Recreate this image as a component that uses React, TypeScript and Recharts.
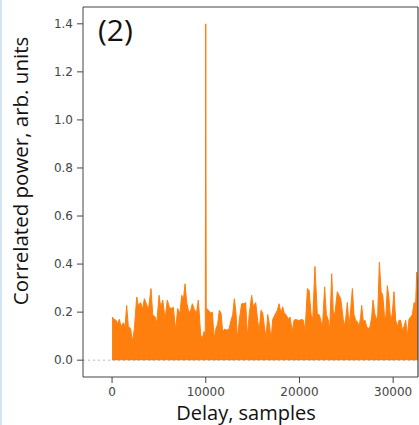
import { AreaChart, Area, XAxis, YAxis, ReferenceLine } from 'recharts'

const delays = [
  0, 220, 430, 600, 780, 960, 1210, 1390, 1560, 1740, 1990, 2170, 2380, 2630, 2810, 3060,
  3240, 3450, 3660, 3880, 4160, 4340, 4590, 4770, 5020, 5190, 5410, 5660, 5900, 6120, 6300,
  6540, 6790, 7000, 7250, 7430, 7610, 7790, 7970, 8140, 8320, 8570, 8790, 9000, 9210, 9460,
  9640, 9820, 9950, 10000, 10050, 10100, 10280, 10530, 10700, 10900, 11070, 11270, 11450,
  11630, 11810, 12060, 12240, 12480, 12700, 12880, 13050, 13230, 13380, 13590, 13830, 14090,
  14260, 14440, 14650, 14900, 15080, 15330, 15540, 15690, 15900, 16080, 16260, 16430, 16610,
  16790, 16970, 17150, 17400, 17640, 17820, 18030, 18210, 18380, 18560, 18810, 18990, 19240,
  19420, 19600, 19810, 20060, 20240, 20420, 20600, 20850, 21030, 21240, 21420, 21650, 21910,
  22090, 22260, 22440, 22690, 22870, 23050, 23230, 23440, 23620, 23800, 24040, 24220, 24400,
  24580, 24760, 24930, 25110, 25290, 25470, 25650, 25820, 26000, 26180, 26360, 26530, 26640,
  26820, 27000, 27170, 27350, 27530, 27710, 27850, 28030, 28210, 28350, 28530, 28710, 28890,
  29060, 29200, 29380, 29560, 29740, 29910, 30090, 30270, 30450, 30620, 30800, 30980, 31160,
  31340, 31510, 31690, 31870, 32050, 32230, 32400, 32510, 32650,
]

const power = [
  0.18, 0.17, 0.166, 0.152, 0.17, 0.14, 0.156, 0.138, 0.228, 0.14, 0.13, 0.077, 0.13, 0.263, 0.228, 0.24,
  0.21, 0.256, 0.235, 0.21, 0.298, 0.19, 0.18, 0.155, 0.27, 0.22, 0.25, 0.17, 0.25, 0.22, 0.215,
  0.22, 0.125, 0.215, 0.195, 0.27, 0.25, 0.318, 0.24, 0.21, 0.195, 0.235, 0.21, 0.195, 0.25, 0.105,
  0.09, 0.12, 0.1, 1.4, 0.2, 0.215, 0.208, 0.195, 0.2, 0.09, 0.13, 0.15, 0.208,
  0.195, 0.12, 0.13, 0.125, 0.13, 0.166, 0.19, 0.256, 0.195, 0.09, 0.17, 0.235, 0.235,
  0.24, 0.1, 0.195, 0.27, 0.222, 0.24, 0.166, 0.12, 0.208, 0.195, 0.14, 0.09, 0.19,
  0.15, 0.085, 0.17, 0.19, 0.208, 0.235, 0.195, 0.222, 0.195, 0.19, 0.17, 0.18, 0.12,
  0.166, 0.17, 0.166, 0.166, 0.17, 0.166, 0.12, 0.298, 0.29, 0.19, 0.17, 0.39, 0.19,
  0.19, 0.17, 0.13, 0.305, 0.19, 0.17, 0.13, 0.36, 0.19, 0.2, 0.285, 0.27, 0.256,
  0.2, 0.14, 0.17, 0.24, 0.14, 0.215, 0.298, 0.19, 0.166, 0.16, 0.14, 0.18, 0.228,
  0.16, 0.166, 0.14, 0.13, 0.14, 0.18, 0.25, 0.195, 0.166, 0.19, 0.408, 0.285, 0.27,
  0.19, 0.166, 0.31, 0.256, 0.16, 0.195, 0.285, 0.166, 0.14, 0.166, 0.166, 0.125, 0.14,
  0.166, 0.1, 0.17, 0.18, 0.19, 0.24, 0.235, 0.367, 0.3,
]

const xTicks = [0, 10000, 20000, 30000]
const yTicks = [0, 0.2, 0.4, 0.6, 0.8, 1.0, 1.2, 1.4]

const data = delays.map((d, i) => ({ delay: d, power: power[i] }))

const tickStyle = { fill: '#444', fontSize: 12, fontFamily: 'DejaVu Sans, sans-serif' }
const labelFont = '"Open Sans", sans-serif'

export default function App() {
  return (
    <div style={{ position: 'absolute', left: 0, top: 0, width: 419, height: 425, background: '#fff' }}>
      <div style={{ position: 'absolute', left: 0, top: 0, width: 2, height: 425, background: '#d3e4f3' }} />
      <AreaChart width={419} height={425} data={data} margin={{ top: 7, right: 1, left: 0, bottom: 0 }}>
        <XAxis
          dataKey="delay"
          type="number"
          domain={[-3100, 32650]}
          allowDataOverflow
          ticks={xTicks}
          height={48}
          tick={tickStyle}
          tickSize={6}
          tickMargin={4}
          stroke="#444"
          label={{
            content: () => (
              <text x={246} y={420} textAnchor="middle" fontSize={20} fontFamily={labelFont} fill="#111">
                Delay, samples
              </text>
            ),
          }}
        />
        <YAxis
          type="number"
          domain={[-0.07, 1.47]}
          allowDataOverflow
          ticks={yTicks}
          width={83}
          tick={tickStyle}
          tickSize={6}
          tickMargin={4}
          tickFormatter={(v: number) => v.toFixed(1)}
          stroke="#444"
          label={{
            content: () => (
              <text
                x={28}
                y={171}
                textAnchor="middle"
                fontSize={20.5}
                fontFamily={labelFont}
                fill="#111"
                transform="rotate(-90, 28, 171)"
              >
                Correlated power, arb. units
              </text>
            ),
          }}
        />
        <ReferenceLine y={1.47} stroke="#444" strokeWidth={1.2} />
        <ReferenceLine x={32650} stroke="#444" strokeWidth={1.2} />
        <Area
          type="linear"
          dataKey="power"
          baseValue={0}
          stroke="#ff7f0e"
          strokeWidth={1}
          fill="#ff7f0e"
          fillOpacity={1}
          isAnimationActive={false}
          dot={false}
          activeDot={false}
        />
        <ReferenceLine y={0} stroke="#4a74a8" strokeOpacity={0.5} strokeWidth={1} strokeDasharray="2 3" />
      </AreaChart>
      <div
        style={{
          position: 'absolute',
          left: 98,
          top: 15,
          fontSize: 30,
          fontFamily: labelFont,
          color: '#111',
          lineHeight: 1,
        }}
      >
        (2)
      </div>
    </div>
  )
}
